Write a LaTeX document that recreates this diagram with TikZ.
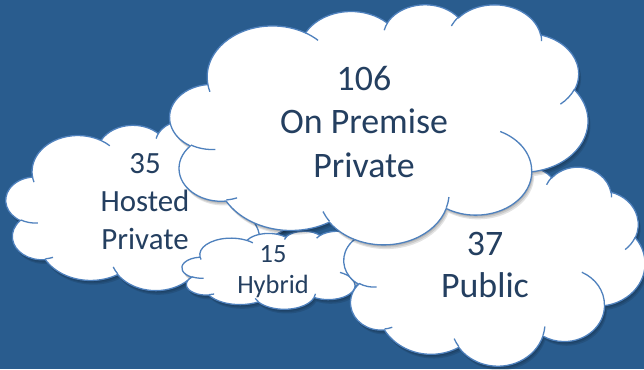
\documentclass[tikz,border=0pt]{standalone}
\usepackage{fontspec}
\setmainfont{Carlito}
\definecolor{bgblue}{RGB}{41,92,142}
\definecolor{edgeblue}{RGB}{79,129,189}
\definecolor{txtblue}{RGB}{36,63,96}
\newcommand\unitfrac[1]{\the\numexpr#1*10000/43200\relax/10000}
% outer outline of the office-style cloud, in a unit box (y downwards)
\def\cloudOuter{}
\foreach \rW/\rH/\aS/\aD in {6753/9190/-190.4875/123.7805,
  5333/7267/-144.1024/89.9452, 4365/5945/-145.8079/99.7230,
  4857/6595/-130.9861/117.2417, 5333/7273/-78.7089/109.0269,
  6775/9220/-46.2673/130.2690, 5785/7867/0.6250/114.0333,
  6752/9215/22.4516/115.1726, 7720/10543/66.2426/75.7110,
  4360/5918/-274.9421/146.7356, 4345/5945/-246.8285/152.5189}{%
  \pgfmathsetmacro\rX{\unitfrac{\rW}}%
  \pgfmathsetmacro\rY{\unitfrac{\rH}}%
  \pgfmathsetmacro\tA{atan2(\rX*sin(\aS),\rY*cos(\aS))}%
  \pgfmathsetmacro\tB{atan2(\rX*sin(\aS+\aD),\rY*cos(\aS+\aD))}%
  \pgfmathsetmacro\dT{mod(\tB-\tA+720,360)}%
  \xdef\cloudOuter{\cloudOuter arc[start angle=\tA, delta angle=\dT, x radius=\rX, y radius=\rY]}%
}
% inner puff strokes
\def\cloudInner{}
\foreach \pX/\pY/\rW/\rH/\aS/\aD in {4693/26177/4345/5945/86.7420/26.4295,
  6928/34899/4360/5918/73.6105/11.4475, 16478/39090/6752/9215/137.6242/14.0811,
  28827/34751/6752/9215/6.4533/15.9984, 34129/22954/5785/7867/-70.2924/70.9174,
  41798/15354/5333/7273/30.3180/27.7515, 38324/5426/4857/6595/-13.7443/14.8589,
  29078/3952/4857/6595/-149.1815/18.1954, 22141/4720/4365/5945/-163.4943/17.6864,
  14000/5192/6753/9190/-66.7070/12.3194, 4127/15789/6753/9190/157.6544/11.8582}{%
  \pgfmathsetmacro\rX{\unitfrac{\rW}}%
  \pgfmathsetmacro\rY{\unitfrac{\rH}}%
  \pgfmathsetmacro\tA{atan2(\rX*sin(\aS),\rY*cos(\aS))}%
  \pgfmathsetmacro\tB{atan2(\rX*sin(\aS+\aD),\rY*cos(\aS+\aD))}%
  \pgfmathsetmacro\dT{mod(\tB-\tA+720,360)}%
  \pgfmathsetmacro\qX{\unitfrac{\pX}}%
  \pgfmathsetmacro\qY{\unitfrac{\pY}}%
  \xdef\cloudInner{\cloudInner (\qX,\qY) arc[start angle=\tA, delta angle=\dT, x radius=\rX, y radius=\rY]}%
}
\tikzset{
  cloudedge/.style={draw=edgeblue, line width=1.3bp},
  cloudtxt/.style={text=txtblue, align=center, inner sep=0pt}
}
% #1 left, #2 top, #3 width, #4 height (pixels, y downwards)
\newcommand\drawofficecloud[4]{%
  \begin{scope}[shift={(#1,#2)}, x=#3bp, y=-#4bp]
    \foreach \k in {1,2,3}{%
      \fill[black, opacity=0.11, xshift=\k*0.8bp, yshift=-\k*1.4bp]
        (0.090278,0.332639) \cloudOuter -- cycle;}
    \path[fill=white, cloudedge] (0.090278,0.332639) \cloudOuter -- cycle;
    \path[cloudedge] \cloudInner;
  \end{scope}}
\begin{document}
\begin{tikzpicture}[x=1bp, y=-1bp]
  \useasboundingbox (0,0) rectangle (644,369);
  \fill[bgblue] (0,0) rectangle (644,369);
  \clip (0,0) rectangle (644,369);
  \drawofficecloud{6}{120}{293}{170}
  \drawofficecloud{182}{231}{200}{78}
  \drawofficecloud{344}{166.5}{301}{199}
  \drawofficecloud{170}{4}{418}{240}
  \node[cloudtxt, font=\fontsize{31}{38}\selectfont] (hosted) at (145,201.5) {35\\Hosted\\Private};
  \node[cloudtxt, font=\fontsize{26.5}{31}\selectfont] (hybrid) at (273,271.5) {15\\Hybrid};
  \node[cloudtxt, font=\fontsize{36}{42}\selectfont] (public) at (485,265) {37\\Public};
  \node[cloudtxt, font=\fontsize{36}{44}\selectfont] (onprem) at (364,122) {106\\On Premise\\Private};
\end{tikzpicture}
\end{document}
